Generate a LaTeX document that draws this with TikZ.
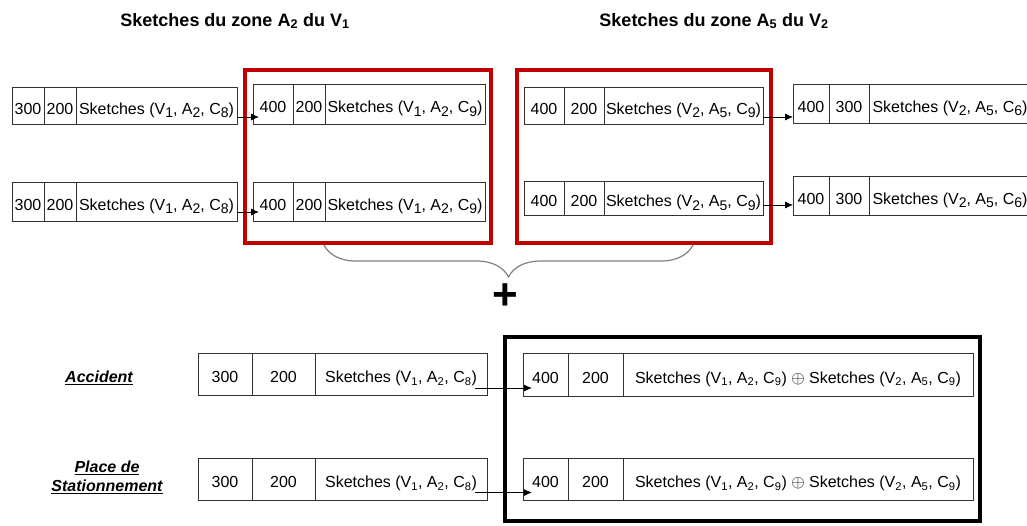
\documentclass[tikz,border=0pt]{standalone}
\usepackage{fontspec}
\setmainfont{Liberation Sans}
\usetikzlibrary{arrows.meta,positioning,calc,decorations.pathreplacing}
\definecolor{zonered}{RGB}{192,0,0}
\tikzset{
  cellbox/.style={
    draw=black!80,
    line width=0.9pt,
    inner sep=1pt,
    outer sep=0pt,
    text height=19pt,
    text depth=2pt,
    font=\fontsize{16}{18}\selectfont
  },
  arrowlink/.style={-{Latex[length=8pt,width=7pt]}, line width=0.9pt},
  zoneframe/.style={draw=zonered, line width=3.6pt},
  mergeframe/.style={draw=black, line width=4pt},
  heading/.style={font=\fontsize{18}{20}\selectfont\bfseries},
  casetag/.style={font=\fontsize{16}{19}\selectfont\bfseries\itshape, align=center},
  bracepath/.style={draw=black!50, line width=1.2pt, decorate,
    decoration={brace, mirror, amplitude=32pt}}
}
\newcommand{\lo}[1]{\raisebox{-0.45ex}{\fontsize{14}{14}\selectfont #1}}
\newcommand{\rec}[9]{%
  \node[cellbox, minimum height=#3, minimum width=#4, anchor=north west] (#1a) at #2 {#7};
  \node[cellbox, minimum height=#3, minimum width=#5, right=0pt of #1a] (#1b) {#8};
  \node[cellbox, minimum height=#3, minimum width=#6, right=0pt of #1b] (#1c) {#9};
}

\begin{document}
\begin{tikzpicture}[x=1pt, y=1pt]
  \useasboundingbox (0,0) rectangle (1027,-525);
  \clip (0,0) rectangle (1027,-525);
  \node[heading] (h1) at (235,-21) {Sketches du zone A\textsubscript{2} du V\textsubscript{1}};
  \node[heading] (h2) at (714,-21) {Sketches du zone A\textsubscript{5} du V\textsubscript{2}};

  \rec{a1}{(12,-87)}{37pt}{32pt}{32pt}{161pt}{300}{200}{Sketches (V\lo{1}, A\lo{2}, C\lo{8})}
  \rec{a2}{(12,-182)}{39pt}{32pt}{32pt}{161pt}{300}{200}{Sketches (V\lo{1}, A\lo{2}, C\lo{8})}
  \rec{b1}{(253,-84)}{40pt}{40pt}{32pt}{160pt}{400}{200}{Sketches (V\lo{1}, A\lo{2}, C\lo{9})}
  \rec{b2}{(253,-182)}{39pt}{40pt}{32pt}{160pt}{400}{200}{Sketches (V\lo{1}, A\lo{2}, C\lo{9})}
  \rec{c1}{(524,-87)}{37pt}{40pt}{40pt}{159pt}{400}{200}{Sketches (V\lo{2}, A\lo{5}, C\lo{9})}
  \rec{c2}{(524,-181)}{34pt}{40pt}{40pt}{159pt}{400}{200}{Sketches (V\lo{2}, A\lo{5}, C\lo{9})}
  \rec{d1}{(793,-84)}{39pt}{36pt}{40pt}{162pt}{400}{300}{Sketches (V\lo{2}, A\lo{5}, C\lo{6})}
  \rec{d2}{(793,-176)}{39pt}{36pt}{40pt}{162pt}{400}{300}{Sketches (V\lo{2}, A\lo{5}, C\lo{6})}

  \draw[zoneframe] (245,-70) rectangle (491,-243);
  \draw[zoneframe] (517,-70) rectangle (771,-243);

  \draw[arrowlink] ([yshift=7pt]a1c.south east) -- ([shift={(6pt,7pt)}]b1a.south west);
  \draw[arrowlink] ([yshift=9pt]a2c.south east) -- ([shift={(6pt,9pt)}]b2a.south west);
  \draw[arrowlink] ([yshift=7pt]c1c.south east) -- ([yshift=6pt]d1a.south west);
  \draw[arrowlink] ([yshift=10pt]c2c.south east) -- ([yshift=10pt]d2a.south west);

  \draw[bracepath] (324,-245) -- (693,-245);
  \node[font=\fontsize{44}{44}\selectfont\bfseries] (plus) at (505,-297) {+};

  \node[casetag] (acc) at (99,-378) {\underline{Accident}};
  \node[casetag] (park) at (107,-477) {\underline{Place de}\\\underline{Stationnement}};

  \rec{e1}{(198,-353)}{42pt}{54pt}{63pt}{172pt}{300}{200}{Sketches (V\textsubscript{1}, A\textsubscript{2}, C\textsubscript{8})}
  \rec{e2}{(198,-458)}{42pt}{54pt}{63pt}{172pt}{300}{200}{Sketches (V\textsubscript{1}, A\textsubscript{2}, C\textsubscript{8})}
  \rec{f1}{(523,-353)}{43pt}{45pt}{55pt}{350pt}{400}{200}{Sketches (V\textsubscript{1}, A\textsubscript{2}, C\textsubscript{9}) $\oplus$ Sketches (V\textsubscript{2}, A\textsubscript{5}, C\textsubscript{9})}
  \rec{f2}{(523,-458)}{42pt}{45pt}{55pt}{350pt}{400}{200}{Sketches (V\textsubscript{1}, A\textsubscript{2}, C\textsubscript{9}) $\oplus$ Sketches (V\textsubscript{2}, A\textsubscript{5}, C\textsubscript{9})}

  \draw[mergeframe] (505,-337) rectangle (980,-521);

  \draw[arrowlink] ([shift={(-12pt,7pt)}]e1c.south east) -- ([shift={(9pt,8pt)}]f1a.south west);
  \draw[arrowlink] ([shift={(-12pt,7.5pt)}]e2c.south east) -- ([shift={(9pt,7.5pt)}]f2a.south west);
\end{tikzpicture}
\end{document}
